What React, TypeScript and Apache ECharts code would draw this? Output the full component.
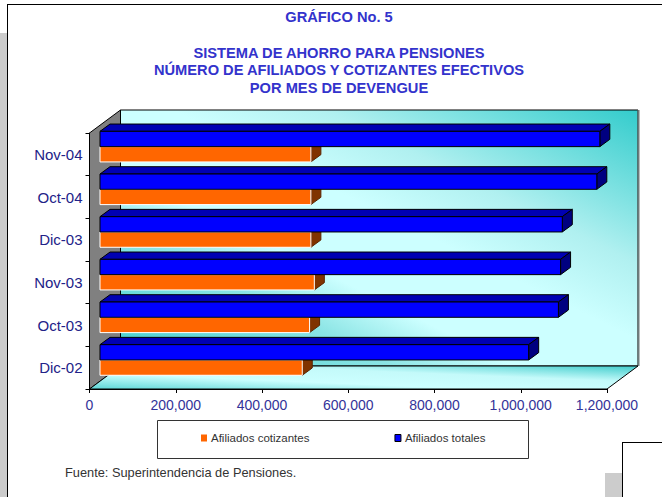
import React, { useEffect, useRef } from "react";
import * as echarts from "echarts";

const categories = ["Dic-02", "Oct-03", "Nov-03", "Dic-03", "Oct-04", "Nov-04"];
const cotizantes = [469000, 486000, 497000, 489000, 489000, 489000];
const totales = [994000, 1063000, 1068000, 1072000, 1152000, 1159000];
const seriesNames = ["Afiliados cotizantes", "Afiliados totales"];
const FONT = "Liberation Sans";

// front plane of the plot
const L = 89.5, R = 607, T = 133, B = 389;
// depth of the back wall
const DX = 31, DY = 24;
// depth and position of bars
const BAR_DX = 10.5, BAR_SHIFT = 7.7, BAR_H = 15.3, BAR_DEPTH_X = 10, BAR_DEPTH_Y = 7.3;

function bars(kind: "top" | "bottom", front: string, top: string, side: string, border: string) {
  return (_: any, api: any) => {
    const p = api.coord([api.value(0), api.value(1)]);
    const x0 = api.coord([0, api.value(1)])[0] + BAR_DX;
    const x1 = p[0] + BAR_DX;
    const c = p[1] - BAR_SHIFT;
    const y0 = kind === "top" ? c - BAR_H : c;
    const y1 = y0 + BAR_H;
    const dx = BAR_DEPTH_X, dy = BAR_DEPTH_Y;
    const edge = { stroke: "#000", lineWidth: 1 };
    return {
      type: "group",
      children: [
        { type: "polygon", shape: { points: [[x0, y0], [x0 + dx, y0 - dy], [x1 + dx, y0 - dy], [x1, y0]] }, style: { fill: top, ...edge } },
        { type: "polygon", shape: { points: [[x1, y0], [x1 + dx, y0 - dy], [x1 + dx, y1 - dy], [x1, y1]] }, style: { fill: side, ...edge, stroke: kind === "top" ? "#000" : "#5a2400" } },
        { type: "rect", shape: { x: x0, y: y0, width: x1 - x0, height: y1 - y0 }, style: { fill: front, stroke: border, lineWidth: 1 } },
      ],
    };
  };
}

export default function App() {
  const ref = useRef<HTMLDivElement>(null);
  useEffect(() => {
    const chart = echarts.init(ref.current!, null, { renderer: "svg" });
    const wall = new echarts.graphic.LinearGradient(1, 0, 0, 1, [
      { offset: 0, color: "#33cccc" },
      { offset: 0.3, color: "#b0f0f0" },
      { offset: 0.45, color: "#ccffff" },
      { offset: 0.62, color: "#ccffff" },
      { offset: 0.74, color: "#8ae4e4" },
      { offset: 1, color: "#40cccc" },
    ]);
    const floor = new echarts.graphic.LinearGradient(0, 1, 1, 0, [
      { offset: 0, color: "#5cd6d6" },
      { offset: 0.35, color: "#ccffff" },
      { offset: 0.65, color: "#c4fafa" },
      { offset: 1, color: "#40cccc" },
    ]);
    const line = (x1: number, y1: number, x2: number, y2: number, stroke = "#000", lineWidth = 1) => ({
      type: "line", shape: { x1, y1, x2, y2 }, style: { stroke, lineWidth }, silent: true,
    });
    chart.setOption({
      animation: false,
      backgroundColor: "#ffffff",
      title: [
        { text: "GRÁFICO No. 5", left: 334, top: 4, textAlign: "center", textStyle: { fontFamily: FONT, fontSize: 14.67, fontWeight: "bold", color: "#3333cc" } },
        {
          text: "SISTEMA DE AHORRO PARA PENSIONES\nNÚMERO DE AFILIADOS Y COTIZANTES EFECTIVOS\nPOR MES DE DEVENGUE",
          left: 334, top: 39, textAlign: "center",
          textStyle: { fontFamily: FONT, fontSize: 14.67, fontWeight: "bold", color: "#3333cc", lineHeight: 17.5 },
        },
      ],
      grid: { left: L, top: T, width: R - L, height: B - T, containLabel: false },
      xAxis: {
        type: "value", min: 0, max: 1200000, interval: 200000,
        axisLine: { show: true, lineStyle: { color: "#000" } },
        axisTick: { show: true, length: 4, lineStyle: { color: "#000" } },
        splitLine: { show: false },
        axisLabel: { color: "#333399", fontFamily: FONT, fontSize: 14, margin: 9, hideOverlap: false, showMinLabel: true, showMaxLabel: true, formatter: (v: number) => v.toLocaleString("en-US") },
      },
      yAxis: {
        type: "category", data: categories,
        axisLine: { show: true, lineStyle: { color: "#000" } },
        axisTick: { show: true, length: 4, lineStyle: { color: "#000" } },
        axisLabel: { color: "#222288", fontFamily: FONT, fontSize: 15, margin: 7 },
      },
      legend: {
        left: 201, top: 432, padding: 0, itemWidth: 6, itemHeight: 7, itemGap: 85, icon: "rect",
        textStyle: { fontFamily: FONT, fontSize: 11.5, color: "#333333", padding: [0, 0, 0, -1] },
        data: [
          { name: seriesNames[0], itemStyle: { color: "#ff6600", borderWidth: 0 } },
          { name: seriesNames[1], itemStyle: { color: "#0000ff", borderColor: "#000", borderWidth: 1 } },
        ],
      },
      series: [
        {
          type: "custom", name: seriesNames[0], itemStyle: { color: "#ff6600" },
          encode: { x: 0, y: 1 },
          renderItem: bars("bottom", "#ff6600", "#b34700", "#803300", "#ffffff"),
          data: cotizantes.map((v, i) => [v, i]),
        },
        {
          type: "custom", name: seriesNames[1], itemStyle: { color: "#0000ff" },
          encode: { x: 0, y: 1 },
          renderItem: bars("top", "#0000ff", "#0000b3", "#000080", "#000000"),
          data: totales.map((v, i) => [v, i]),
        },
      ],
      graphic: [
        // page furniture
        { type: "rect", shape: { x: 0, y: 33, width: 7, height: 464 }, style: { fill: "#cccccc" }, silent: true },
        { type: "rect", shape: { x: 605, y: 473, width: 17, height: 24 }, style: { fill: "#cccccc" }, silent: true },
        line(7.5, 4, 7.5, 497),
        line(7, 4.5, 662, 4.5),
        line(622.5, 442, 622.5, 497),
        line(622, 442.5, 662, 442.5),
        // 3-D box walls
        { type: "rect", z: 0, shape: { x: L + DX, y: T - DY + 1, width: R - L, height: B - T }, style: { fill: wall, stroke: "#000", lineWidth: 1 }, silent: true },
        line(R + DX + 0.5, T - DY + 1, R + DX + 0.5, B - DY + 1, "#6e7b7b", 2),
        { type: "polygon", z: 0, shape: { points: [[L, T], [L + DX, T - DY + 1], [L + DX, B - DY + 1], [L, B]] }, style: { fill: "#808080", stroke: "#000", lineWidth: 1 }, silent: true },
        { type: "polygon", z: 0, shape: { points: [[L, B], [L + DX, B - DY + 1], [R + DX, B - DY + 1], [R, B]] }, style: { fill: floor, stroke: "#000", lineWidth: 1 }, silent: true },
        // legend box and source
        { type: "rect", shape: { x: 157.5, y: 420.5, width: 371, height: 38 }, style: { fill: "#fff", stroke: "#333", lineWidth: 1 }, silent: true },
        { type: "text", x: 65, y: 466, style: { text: "Fuente: Superintendencia de Pensiones.", fontFamily: FONT, fontSize: 12.8, fill: "#333333" }, silent: true },
      ],
    });
    return () => chart.dispose();
  }, []);
  return <div ref={ref} style={{ position: "absolute", left: 0, top: 0, width: 662, height: 497 }} />;
}
